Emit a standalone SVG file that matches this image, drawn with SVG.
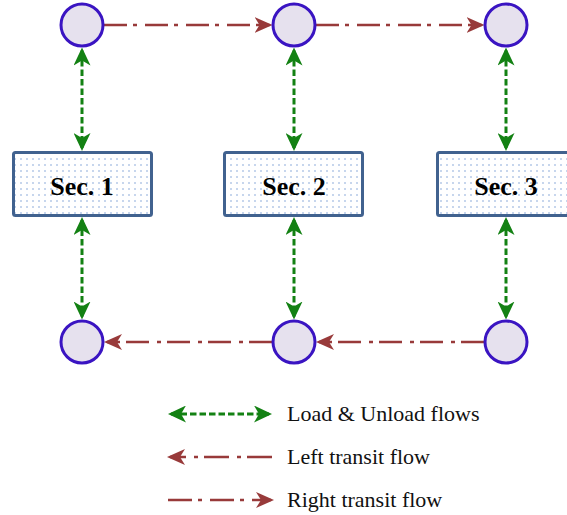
<svg xmlns="http://www.w3.org/2000/svg" width="567" height="515" viewBox="0 0 567 515">
  <style>
    .node { fill: #e6e1ee; stroke: #3a14c2; stroke-width: 3; }
    .box { fill: url(#dots); stroke: #41628f; stroke-width: 3; }
    .lbl { font-family: "Liberation Serif", "Times New Roman", serif; font-weight: bold; font-size: 26px; fill: #000; text-anchor: middle; }
    .leg { font-family: "Liberation Serif", "Times New Roman", serif; font-size: 22px; fill: #111; }
    .green { stroke: #138113; stroke-width: 3; fill: none; stroke-dasharray: 6.5 3; marker-start: url(#ga); marker-end: url(#ga); }
    .red { stroke: #983a3a; stroke-width: 2.6; fill: none; stroke-dasharray: 23 6 4 8; }
  </style>
  <defs>
    <pattern id="dots" x="0" y="0" width="6" height="6" patternUnits="userSpaceOnUse">
      <rect width="6" height="6" fill="#ffffff"/>
      <circle cx="3" cy="3" r="0.8" fill="#7fa3d8"/>
    </pattern>
    <marker id="ga" markerUnits="userSpaceOnUse" markerWidth="18" markerHeight="17" viewBox="0 0 18 17" refX="15" refY="8.5" orient="auto-start-reverse">
      <path d="M0,0 L18,8.5 L0,17 L5,8.5 Z" fill="#138113"/>
    </marker>
    <marker id="ra" markerUnits="userSpaceOnUse" markerWidth="18" markerHeight="16" viewBox="0 0 18 16" refX="15" refY="8" orient="auto">
      <path d="M0,0 L18,8 L0,16 L5,8 Z" fill="#983a3a"/>
    </marker>
  </defs>

  <g id="connectors">
    <path class="green" d="M82,50.5 V148"/>
    <path class="green" d="M294,50.5 V148"/>
    <path class="green" d="M506,50.5 V148"/>
    <path class="green" d="M82,220 V316.5"/>
    <path class="green" d="M294,220 V316.5"/>
    <path class="green" d="M506,220 V316.5"/>
    <path class="red" d="M104,25 H269.5" marker-end="url(#ra)"/>
    <path class="red" d="M316,25 H481.5" marker-end="url(#ra)"/>
    <path class="red" d="M484,342 H319" marker-end="url(#ra)"/>
    <path class="red" d="M272,342 H107" marker-end="url(#ra)"/>
  </g>

  <g id="n_top1"><circle class="node" cx="82" cy="25" r="21"/></g>
  <g id="n_top2"><circle class="node" cx="294" cy="25" r="21"/></g>
  <g id="n_top3"><circle class="node" cx="506" cy="25" r="21"/></g>
  <g id="n_bot1"><circle class="node" cx="82" cy="342" r="21"/></g>
  <g id="n_bot2"><circle class="node" cx="294" cy="342" r="21"/></g>
  <g id="n_bot3"><circle class="node" cx="506" cy="342" r="21"/></g>

  <g id="sec1"><rect class="box" x="13.5" y="152.5" width="138" height="63" rx="2"/><text class="lbl" x="82" y="195">Sec. 1</text></g>
  <g id="sec2"><rect class="box" x="224.5" y="152.5" width="138" height="63" rx="2"/><text class="lbl" x="294" y="195">Sec. 2</text></g>
  <g id="sec3"><rect class="box" x="437.5" y="152.5" width="138" height="63" rx="2"/><text class="lbl" x="506" y="195">Sec. 3</text></g>

  <g id="legend">
    <path class="green" d="M171,414 H269"/>
    <text class="leg" x="287" y="421">Load &amp; Unload flows</text>
    <path class="red" d="M272,457 H170" style="stroke-dasharray: 25 6 4 8" marker-end="url(#ra)"/>
    <text class="leg" x="287" y="464">Left transit flow</text>
    <path class="red" d="M168,500 H271" style="stroke-dasharray: 24 6 4 8" marker-end="url(#ra)"/>
    <text class="leg" x="287" y="507">Right transit flow</text>
  </g>
</svg>
